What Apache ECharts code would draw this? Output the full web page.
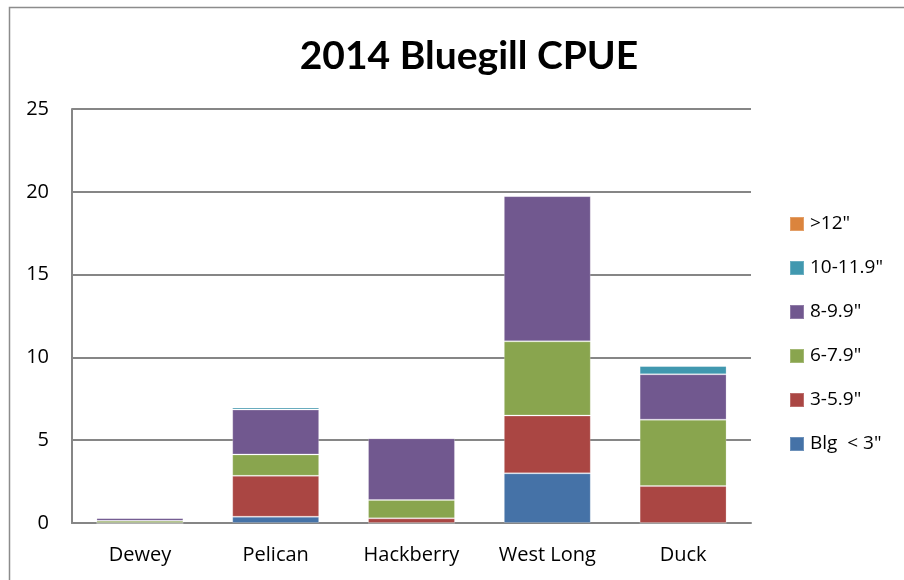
<!DOCTYPE html>
<html>
<head>
<meta charset="utf-8">
<script src="https://cdn.jsdelivr.net/npm/echarts@6/dist/echarts.min.js"></script>
<style>
  html, body { margin: 0; padding: 0; background: #fff; }
  #chart { width: 904px; height: 580px; }
</style>
</head>
<body>
<div id="chart"></div>
<script>
// Lakes sampled
const categories = ['Dewey', 'Pelican', 'Hackberry', 'West Long', 'Duck'];

// CPUE by length class, stacked from smallest to largest
const blgUnder3 = [0, 0.38, 0, 3.0, 0];
const len3to59 = [0, 2.47, 0.28, 3.49, 2.23];
const len6to79 = [0.13, 1.29, 1.11, 4.48, 4.01];
const len8to99 = [0.17, 2.71, 3.73, 8.77, 2.74];
const len10to119 = [0, 0.12, 0, 0, 0.5];
const over12 = [0, 0, 0, 0, 0];

const seriesNames = ['Blg  < 3"', '3-5.9"', '6-7.9"', '8-9.9"', '10-11.9"', '>12"'];
const seriesValues = [blgUnder3, len3to59, len6to79, len8to99, len10to119, over12];
const seriesColors = ['#4572A7', '#AA4643', '#89A54E', '#71588F', '#4198AF', '#DB843D'];

const yTicks = [0, 5, 10, 15, 20, 25];

const font = "'Open Sans', 'Liberation Sans', sans-serif";

const chart = echarts.init(document.getElementById('chart'), null, { renderer: 'canvas' });

chart.setOption({
  backgroundColor: '#fff',
  animation: false,
  title: {
    text: '2014 Bluegill CPUE',
    left: 464,
    top: 32,
    textAlign: 'center',
    textStyle: { fontFamily: "Lato, 'Open Sans', sans-serif", fontWeight: 'bold', fontSize: 39, color: '#000' }
  },
  graphic: [{
    type: 'rect',
    shape: { x: 9.5, y: 7.5, width: 1000, height: 1000 },
    style: { fill: 'none', stroke: '#8c8c8c', lineWidth: 1.5 },
    silent: true
  }],
  legend: {
    data: seriesNames.slice().reverse(),
    orient: 'vertical',
    left: 789,
    top: 214,
    padding: 0,
    itemWidth: 14,
    itemHeight: 14,
    itemGap: 24,
    icon: 'rect',
    textStyle: { fontFamily: font, fontSize: 19, lineHeight: 20, color: '#000', padding: [0, 0, 0, 1] }
  },
  grid: { left: 72, right: 153, top: 109, bottom: 57 },
  xAxis: {
    type: 'category',
    data: categories,
    axisLine: { lineStyle: { color: '#868686', width: 2 } },
    axisTick: { show: false },
    axisLabel: { fontFamily: font, fontSize: 20, color: '#000', margin: 22 }
  },
  yAxis: {
    type: 'value',
    min: yTicks[0],
    max: yTicks[yTicks.length - 1],
    interval: 5,
    axisLine: { show: true, lineStyle: { color: '#868686', width: 2 } },
    axisTick: { show: false },
    splitLine: { lineStyle: { color: '#868686', width: 2 } },
    axisLabel: { fontFamily: font, fontSize: 20, color: '#000', margin: 23 }
  },
  series: seriesNames.map((name, i) => ({
    name: name,
    type: 'bar',
    stack: 'cpue',
    data: seriesValues[i],
    barWidth: '64%',
    itemStyle: { color: seriesColors[i], borderColor: 'rgba(255,255,255,0.22)', borderWidth: 1 }
  }))
});
</script>
</body>
</html>
